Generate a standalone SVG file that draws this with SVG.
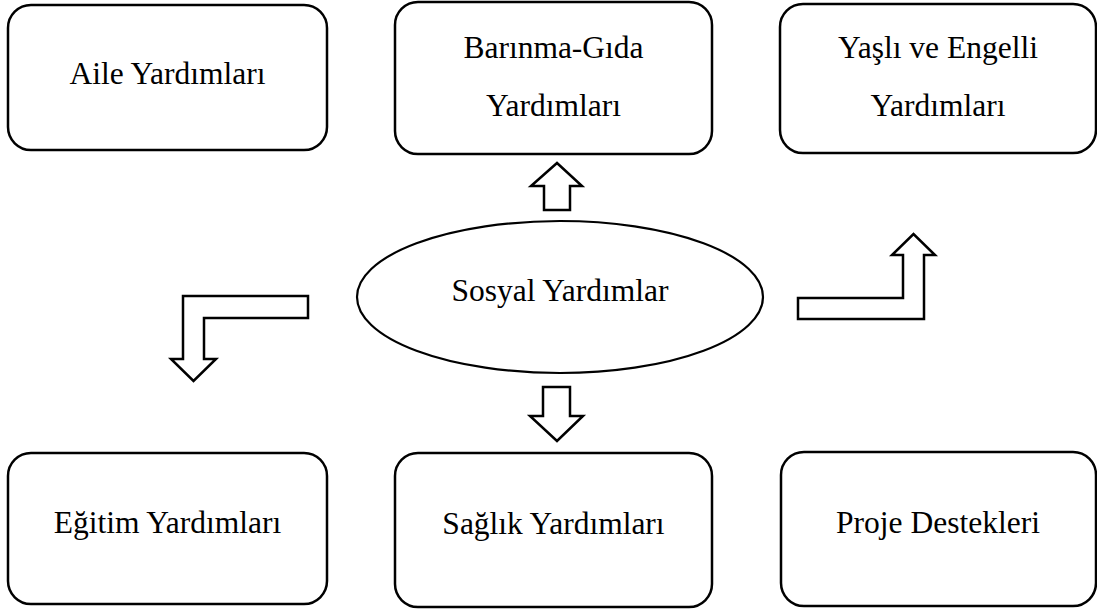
<svg xmlns="http://www.w3.org/2000/svg" width="1097" height="610" viewBox="0 0 1097 610">
<style>
.box{fill:#fff;stroke:#000;stroke-width:2.5}
.ell{fill:#fff;stroke:#000;stroke-width:2.2}
.arr{fill:#fff;stroke:#000;stroke-width:2.5;stroke-linejoin:miter}
.t{font-family:"Liberation Serif","Times New Roman",serif;font-size:31.5px;fill:#000;text-anchor:middle}
</style>
<rect width="1097" height="610" fill="#fff"/>
<g id="aile"><rect class="box" x="8" y="5" width="319" height="145" rx="23"/><text class="t" x="167.5" y="84">Aile Yardımları</text></g>
<g id="barinma"><rect class="box" x="395" y="2" width="317" height="152" rx="23"/><text class="t" x="553.5" y="58">Barınma-Gıda</text><text class="t" x="553.5" y="116">Yardımları</text></g>
<g id="yasli"><rect class="box" x="780" y="4" width="316" height="149" rx="23"/><text class="t" x="938" y="58">Yaşlı ve Engelli</text><text class="t" x="938" y="116">Yardımları</text></g>
<g id="sosyal"><ellipse class="ell" cx="560" cy="297" rx="203" ry="76"/><text class="t" x="560" y="301">Sosyal Yardımlar</text></g>
<g id="egitim"><rect class="box" x="8" y="453" width="319" height="151" rx="23"/><text class="t" x="167.5" y="533">Eğitim Yardımları</text></g>
<g id="saglik"><rect class="box" x="395" y="453" width="317" height="154" rx="23"/><text class="t" x="553.5" y="534">Sağlık Yardımları</text></g>
<g id="proje"><rect class="box" x="781" y="452" width="315" height="154" rx="23"/><text class="t" x="938" y="533">Proje Destekleri</text></g>
<g id="connectors">
<polygon class="arr" points="557,163 582,186 570,186 570,210 544,210 544,186 531,186"/>
<polygon class="arr" points="543,387 570,387 570,416 583,416 557,441 530,416 543,416"/>
<polygon class="arr" points="798,298 903,298 903,255 892,255 913.5,234 935,255 924,255 924,319 798,319"/>
<polygon class="arr" points="308,296 308,318 204,318 204,359 216,359 193.5,381 171,359 183,359 183,296"/>
</g>
</svg>
